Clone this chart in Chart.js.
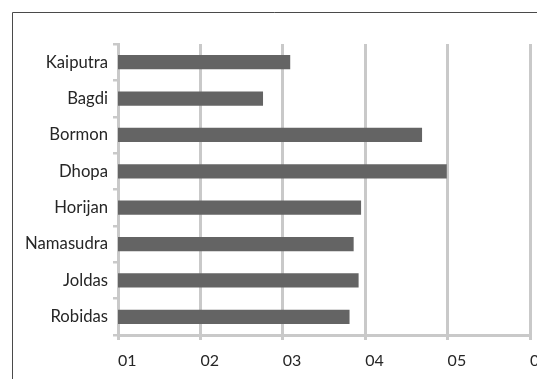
<!DOCTYPE html>
<html>
<head>
<meta charset="utf-8">
<script src="https://cdn.jsdelivr.net/npm/chart.js@4/dist/chart.umd.min.js"></script>
<style>
  html, body { margin: 0; padding: 0; background: #fff; }
  canvas { display: block; }
</style>
</head>
<body>
<canvas id="chart" width="537" height="379"></canvas>
<script>
// Communities, listed top to bottom
const categories = ['Kaiputra', 'Bagdi', 'Bormon', 'Dhopa', 'Horijan', 'Namasudra', 'Joldas', 'Robidas'];
// Score for each community
const values = [3.09, 2.76, 4.69, 4.99, 3.95, 3.86, 3.92, 3.81];
// Value-axis tick labels for 1..6
const tickValues = [1, 2, 3, 4, 5, 6];
const tickLabels = ['01', '02', '03', '04', '05', '06'];

const GRID = '#c9c9c9';
const BAR = '#646464';
const TEXT = '#262626';

// Thin dark frame along the top and left edges
const framePlugin = {
  id: 'frame',
  beforeDraw(chart) {
    const ctx = chart.ctx;
    ctx.save();
    ctx.fillStyle = '#ffffff';
    ctx.fillRect(0, 0, chart.width, chart.height);
    ctx.strokeStyle = '#4a4a4a';
    ctx.lineWidth = 1;
    ctx.beginPath();
    ctx.moveTo(chart.width, 12.5);
    ctx.lineTo(12.5, 12.5);
    ctx.lineTo(12.5, chart.height);
    ctx.stroke();
    ctx.restore();
  }
};

function draw() {
  Chart.defaults.font.family = 'Lato, "Open Sans", sans-serif';
  Chart.defaults.font.size = 16;
  Chart.defaults.color = TEXT;

  new Chart(document.getElementById('chart'), {
    type: 'bar',
    data: {
      labels: categories,
      datasets: [{
        data: values,
        backgroundColor: BAR,
        borderWidth: 0,
        categoryPercentage: 1,
        barPercentage: 0.39
      }]
    },
    options: {
      indexAxis: 'y',
      responsive: false,
      animation: false,
      layout: { padding: { top: 44, right: 7, bottom: 0, left: 0 } },
      plugins: {
        legend: { display: false },
        tooltip: { enabled: false }
      },
      scales: {
        x: {
          type: 'linear',
          min: 1,
          max: 6,
          afterBuildTicks(scale) {
            scale.ticks = tickValues.map(v => ({ value: v }));
          },
          afterFit(scale) {
            scale.height = 44;
            scale.paddingLeft = 0;
            scale.paddingRight = 0;
          },
          ticks: {
            align: 'start',
            padding: 11,
            color: TEXT,
            callback: (v) => tickLabels[tickValues.indexOf(v)]
          },
          grid: {
            color: GRID,
            lineWidth: 3,
            tickLength: 5,
            drawTicks: true
          },
          border: { display: true, color: GRID, width: 3 }
        },
        y: {
          afterFit(scale) {
            scale.width = 118;
          },
          ticks: { padding: 5, color: TEXT, font: { size: 16.7 } },
          grid: {
            drawOnChartArea: false,
            drawTicks: true,
            tickLength: 5,
            color: GRID,
            lineWidth: 2.5
          },
          border: { display: true, color: GRID, width: 3 }
        }
      }
    },
    plugins: [framePlugin]
  });
}

if (document.fonts && document.fonts.load) {
  document.fonts.load('16px Lato').then(draw, draw);
} else {
  draw();
}
</script>
</body>
</html>
